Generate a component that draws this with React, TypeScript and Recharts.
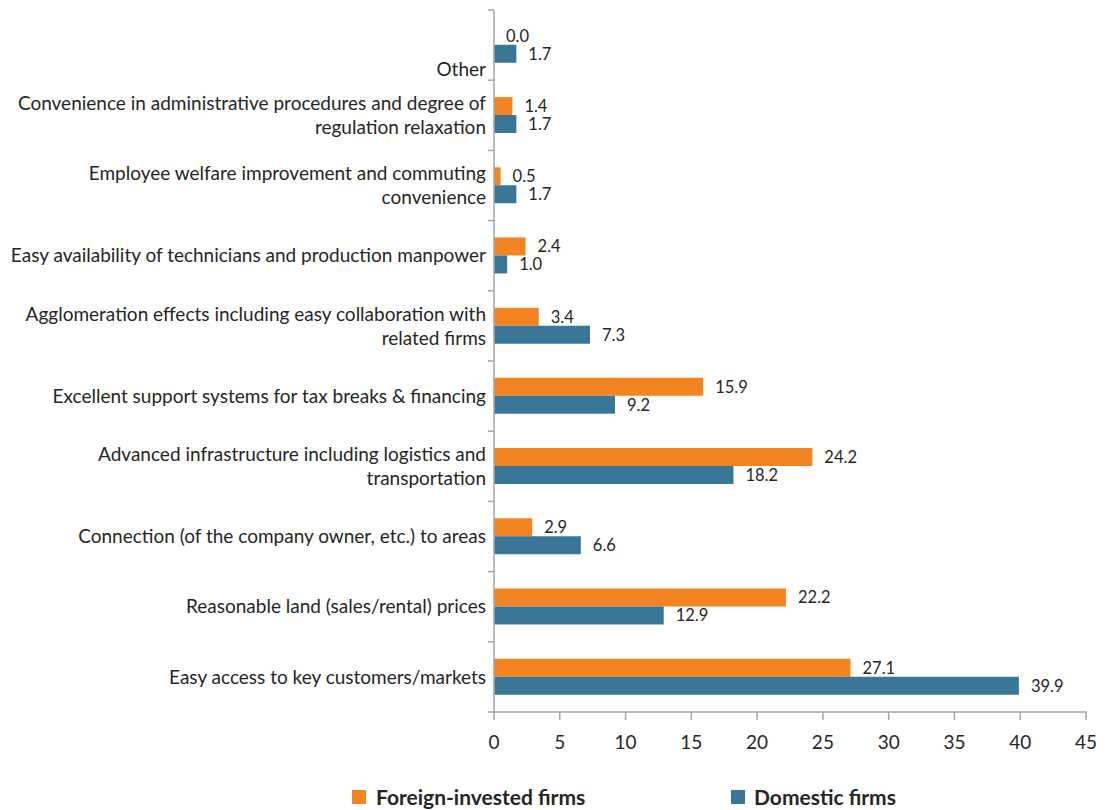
import { BarChart, Bar, XAxis, YAxis, LabelList } from 'recharts'

const categories = [
  ['', '', 'Other'],
  ['Convenience in administrative procedures and degree of', 'regulation relaxation'],
  ['Employee welfare improvement and commuting', 'convenience'],
  ['Easy availability of technicians and production manpower'],
  ['Agglomeration effects including easy collaboration with', 'related firms'],
  ['Excellent support systems for tax breaks & financing'],
  ['Advanced infrastructure including logistics and', 'transportation'],
  ['Connection (of the company owner, etc.) to areas'],
  ['Reasonable land (sales/rental) prices'],
  ['Easy access to key customers/markets'],
]
const foreignFirms = [0.0, 1.4, 0.5, 2.4, 3.4, 15.9, 24.2, 2.9, 22.2, 27.1]
const domesticFirms = [1.7, 1.7, 1.7, 1.0, 7.3, 9.2, 18.2, 6.6, 12.9, 39.9]
const xTicks = [0, 5, 10, 15, 20, 25, 30, 35, 40, 45]

const data = categories.map((lines, i) => ({
  key: String(i),
  foreign: foreignFirms[i],
  domestic: domesticFirms[i],
}))

const W = 1110
const H = 810
const Y_AXIS_W = 494
const TOP = 10
const X_AXIS_H = 40
const BOTTOM = 58
const PLOT_H = H - TOP - BOTTOM - X_AXIS_H
const BAND = PLOT_H / categories.length

const FONT = 'Lato, "Open Sans", sans-serif'
const ORANGE = '#F38421'
const BLUE = '#3A7797'
const AXIS = '#A6A6A6'
const TEXT = '#262626'

function CategoryTick(props: any) {
  const { y, index } = props
  const lines = categories[index] || []
  const lineH = 24
  const start = y - ((lines.length - 1) * lineH) / 2
  return (
    <g>
      <line x1={Y_AXIS_W - 6} x2={Y_AXIS_W} y1={y - BAND / 2} y2={y - BAND / 2} stroke={AXIS} strokeWidth={1.5} />
      {index === categories.length - 1 && (
        <line x1={Y_AXIS_W - 6} x2={Y_AXIS_W} y1={y + BAND / 2} y2={y + BAND / 2} stroke={AXIS} strokeWidth={1.5} />
      )}
      {lines.map((t: string, i: number) => (
        <text
          key={i}
          x={Y_AXIS_W - 8}
          y={start + i * lineH}
          dy="0.35em"
          textAnchor="end"
          fontSize={19}
          fontFamily={FONT}
          fill={TEXT}
        >
          {t}
        </text>
      ))}
    </g>
  )
}

const fmt = (v: any) => Number(v).toFixed(1)
const labelStyle = { fontSize: 16.5, fill: TEXT, fontFamily: FONT }

export default function App() {
  return (
    <div style={{ position: 'absolute', left: 0, top: 0, width: W, height: H, background: '#fff' }}>
      <BarChart
        width={W}
        height={H}
        data={data}
        layout="vertical"
        margin={{ top: TOP, right: 24, bottom: BOTTOM, left: 0 }}
        barCategoryGap="24%"
        barGap={0}
      >
        <XAxis
          type="number"
          domain={[0, 45]}
          ticks={xTicks}
          interval={0}
          height={X_AXIS_H}
          stroke={AXIS}
          strokeWidth={1.5}
          tickSize={8}
          tickMargin={16}
          tick={{ fontSize: 19, fill: TEXT, fontFamily: FONT }}
        />
        <YAxis
          type="category"
          dataKey="key"
          width={Y_AXIS_W}
          stroke={AXIS}
          strokeWidth={1.5}
          tickLine={false}
          interval={0}
          tick={<CategoryTick />}
        />
        <Bar dataKey="foreign" fill={ORANGE} minPointSize={0.01} isAnimationActive={false}>
          <LabelList dataKey="foreign" position="right" offset={12} formatter={fmt} style={labelStyle} />
        </Bar>
        <Bar dataKey="domestic" fill={BLUE} isAnimationActive={false}>
          <LabelList dataKey="domestic" position="right" offset={12} formatter={fmt} style={labelStyle} />
        </Bar>
      </BarChart>
      <div style={{ position: 'absolute', left: 352, top: 784, display: 'flex', alignItems: 'center', fontFamily: FONT, fontWeight: 700, fontSize: 21, color: TEXT }}>
        <span style={{ width: 14, height: 14, background: ORANGE, display: 'inline-block', marginRight: 10 }} />
        Foreign-invested firms
      </div>
      <div style={{ position: 'absolute', left: 731, top: 784, display: 'flex', alignItems: 'center', fontFamily: FONT, fontWeight: 700, fontSize: 21, color: TEXT }}>
        <span style={{ width: 14, height: 14, background: BLUE, display: 'inline-block', marginRight: 9 }} />
        Domestic firms
      </div>
    </div>
  )
}
